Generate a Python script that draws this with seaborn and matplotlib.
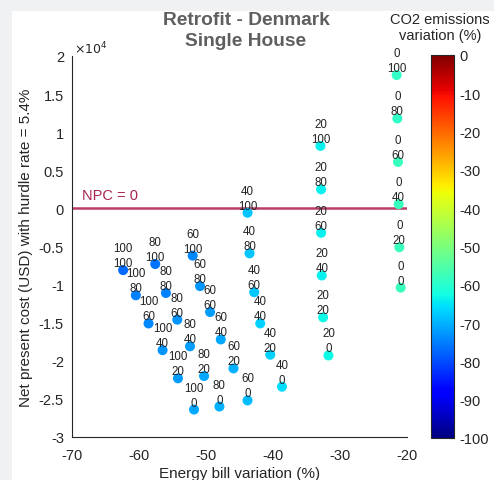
import numpy as np
import pandas as pd
import matplotlib
matplotlib.use("Agg")
import matplotlib.pyplot as plt
import seaborn as sns
from matplotlib.patches import Rectangle
from matplotlib.cm import ScalarMappable
from matplotlib.colors import Normalize

# ---------------- data ----------------
group_labels = ["100"] * 6 + ["80"] * 6 + ["60"] * 6 + ["40"] * 6 + ["20"] * 6 + ["0"] * 6
share_labels = ["100", "80", "60", "40", "20", "0"] * 6
energy_bill = [-62.4, -60.5, -58.6, -56.5, -54.2, -51.8,
               -57.6, -56.0, -54.3, -52.4, -50.3, -48.0,
               -52.0, -50.9, -49.4, -47.8, -45.9, -43.8,
               -43.8, -43.5, -42.8, -41.9, -40.4, -38.65,
               -32.9, -32.8, -32.8, -32.7, -32.5, -31.7,
               -21.5, -21.4, -21.3, -21.2, -21.1, -20.9]
npc_usd = [-8100, -11400, -15100, -18600, -22300, -26400,
           -7300, -11100, -14600, -18100, -22000, -26000,
           -6200, -10200, -13600, -17200, -21000, -25200,
           -570, -5900, -11000, -15100, -19200, -23400,
           8200, 2500, -3200, -8800, -14300, -19300,
           17500, 11800, 6100, 560, -5100, -10400]
co2_variation = [-77, -75, -74, -73, -72, -71,
                 -76, -75, -73, -72, -71, -70,
                 -74, -73, -72, -71, -70, -69,
                 -68, -68, -68, -67, -67, -66,
                 -64, -64, -64, -64, -63, -63,
                 -59, -59, -58, -58, -58, -58]
x_ticks = [-70, -60, -50, -40, -30, -20]
y_ticks = [2, 1.5, 1, 0.5, 0, -0.5, -1, -1.5, -2, -2.5, -3]
cbar_ticks = [0, -10, -20, -30, -40, -50, -60, -70, -80, -90, -100]

df = pd.DataFrame({"x": energy_bill, "y": np.array(npc_usd) / 1e4,
                   "co2": co2_variation, "top": group_labels, "bot": share_labels})

# ---------------- figure ----------------
sns.set_style("white")
plt.rcParams["font.family"] = ["Liberation Sans", "DejaVu Sans"]

W, H = 494, 481
fig = plt.figure(figsize=(W / 100, H / 100), dpi=100, facecolor="#f0f1f3")
fig.patches.append(Rectangle((12 / W, 0), 1 - 12 / W, 1 - 12 / H,
                             transform=fig.transFigure, facecolor="white",
                             edgecolor="none", zorder=-5))

ax = fig.add_axes([72.3 / W, 1 - 438 / H, (406.7 - 72.3) / W, (438 - 57) / H])
ax.set_facecolor("white")

jet = matplotlib.colormaps["jet"]
norm = Normalize(vmin=-100, vmax=0)
sns.scatterplot(data=df, x="x", y="y", hue="co2", palette=jet, hue_norm=norm,
                s=52, edgecolor="none", legend=False, ax=ax, zorder=3)

npc_color = "#bc3d68"
ax.axhline(0, color=npc_color, lw=1.8, zorder=2)
ax.text(-68.5, 0.08, "NPC = 0", color="#a8244f", fontsize=10.5, va="bottom", ha="left")

for _, r in df.iterrows():
    ax.annotate(r["top"], (r["x"], r["y"]), xytext=(0, 22), textcoords="offset pixels",
                ha="center", va="center", fontsize=8.3, color="#222222", zorder=4)
    ax.annotate(r["bot"], (r["x"], r["y"]), xytext=(0, 7), textcoords="offset pixels",
                ha="center", va="center", fontsize=8.3, color="#222222", zorder=4)

ax.set_xlim(-70, -20)
ax.set_ylim(-3, 2)
ax.set_xticks(x_ticks)
ax.set_xticklabels([str(v) for v in x_ticks])
ax.set_yticks(y_ticks)
ax.set_yticklabels([("%g" % v) for v in y_ticks])
ax.tick_params(direction="in", length=3, width=0.8, labelsize=10.5, colors="#262626")
ax.tick_params(axis="x", pad=8)
ax.tick_params(axis="y", pad=6)
for s in ["top", "right"]:
    ax.spines[s].set_visible(False)
for s in ["left", "bottom"]:
    ax.spines[s].set_color("#262626")
    ax.spines[s].set_linewidth(0.8)

ax.set_xlabel("Energy bill variation (%)", fontsize=11, color="#262626", labelpad=3)
ax.set_ylabel("Net present cost (USD) with hurdle rate = 5.4%", fontsize=11,
              color="#262626", labelpad=4)
ax.text(0.005, 1.0, r"$\times10^4$", transform=ax.transAxes, fontsize=9,
        color="#262626", ha="left", va="bottom")

fig.text(246 / W, 1 - 31 / H, "Retrofit - Denmark\nSingle House", ha="center",
         va="center", fontsize=13.8, fontweight="bold", color="#5f5f5f", linespacing=1.25)

# ---------------- colorbar ----------------
cax = fig.add_axes([431 / W, 1 - 439 / H, 23.3 / W, (439 - 55.7) / H])
sm = ScalarMappable(norm=norm, cmap=jet)
cb = fig.colorbar(sm, cax=cax)
cb.set_ticks(cbar_ticks)
cb.set_ticklabels([str(v) for v in cbar_ticks])
cb.outline.set_linewidth(0.8)
cb.outline.set_edgecolor("#262626")
cax.tick_params(direction="in", length=3, width=0.8, labelsize=10.5, colors="#262626")
fig.text(440 / W, 1 - 28 / H, "CO2 emissions\nvariation (%)", ha="center", va="center",
         fontsize=10.5, color="#262626", linespacing=1.15)

fig.savefig("out.png", dpi=100, facecolor=fig.get_facecolor())
